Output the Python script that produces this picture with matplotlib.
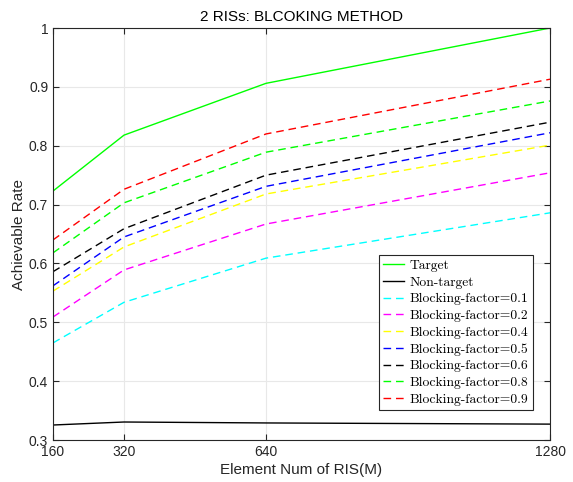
import matplotlib
matplotlib.use("Agg")
import matplotlib.pyplot as plt
from matplotlib.ticker import FixedLocator, FuncFormatter

elements = [160, 320, 640, 1280]
target = [0.723, 0.818, 0.906, 1.000]
non_target = [0.3255, 0.3306, 0.329, 0.327]
bf_01 = [0.465, 0.534, 0.609, 0.686]
bf_02 = [0.509, 0.589, 0.667, 0.754]
bf_04 = [0.553, 0.628, 0.718, 0.801]
bf_05 = [0.562, 0.645, 0.731, 0.822]
bf_06 = [0.586, 0.659, 0.750, 0.840]
bf_08 = [0.618, 0.703, 0.789, 0.876]
bf_09 = [0.640, 0.726, 0.820, 0.913]

plt.rcParams['font.family'] = ['Liberation Sans', 'DejaVu Sans']

fig = plt.figure(figsize=(5.73, 4.82), dpi=100)
ax = fig.add_axes([0.0925, 0.0871, 0.8674, 0.8548])

dash = (0, (5.5, 3.5))
ax.plot(elements, target, color='#00ff00', lw=1.0, label='Target')
ax.plot(elements, non_target, color='black', lw=1.0, label='Non-target')
series = [(bf_01, 'cyan', '0.1'), (bf_02, 'magenta', '0.2'), (bf_04, 'yellow', '0.4'),
          (bf_05, 'blue', '0.5'), (bf_06, 'black', '0.6'), (bf_08, '#00ff00', '0.8'),
          (bf_09, 'red', '0.9')]
for vals, col, f in series:
    ax.plot(elements, vals, color=col, lw=1.0, linestyle=dash,
            label='Blocking-factor=' + f)

ax.set_xlim(160, 1280)
ax.set_ylim(0.3, 1.0)
ax.xaxis.set_major_locator(FixedLocator(elements))
ax.set_yticks([0.3, 0.4, 0.5, 0.6, 0.7, 0.8, 0.9, 1.0])
ax.yaxis.set_major_formatter(FuncFormatter(lambda v, p: '1' if abs(v - 1) < 1e-9 else f'{v:.1f}'))
ax.tick_params(direction='in', top=True, right=True, length=4, width=0.8,
               labelsize=10, colors='#262626')
ax.grid(True, color='#e8e8e8', lw=0.8)
ax.set_axisbelow(True)
for s in ax.spines.values():
    s.set_color('#262626')
    s.set_linewidth(0.8)

ax.set_title('2 RISs: BLCOKING METHOD', fontsize=11, pad=5, color='black')
ax.set_xlabel('Element Num of RIS(M)', fontsize=11, color='#262626', labelpad=3)
ax.set_ylabel('Achievable Rate', fontsize=11, color='#262626', labelpad=2)

leg = ax.legend(loc='lower right', bbox_to_anchor=(0.965, 0.073),
                prop={'family': 'cmr10', 'size': 9.8}, frameon=True, fancybox=False,
                edgecolor='#262626', framealpha=1, borderpad=0.3, labelspacing=0.31,
                handlelength=1.5, handletextpad=0.45, borderaxespad=0.0)
leg.get_frame().set_linewidth(0.8)

fig.savefig('out.png', dpi=100)
